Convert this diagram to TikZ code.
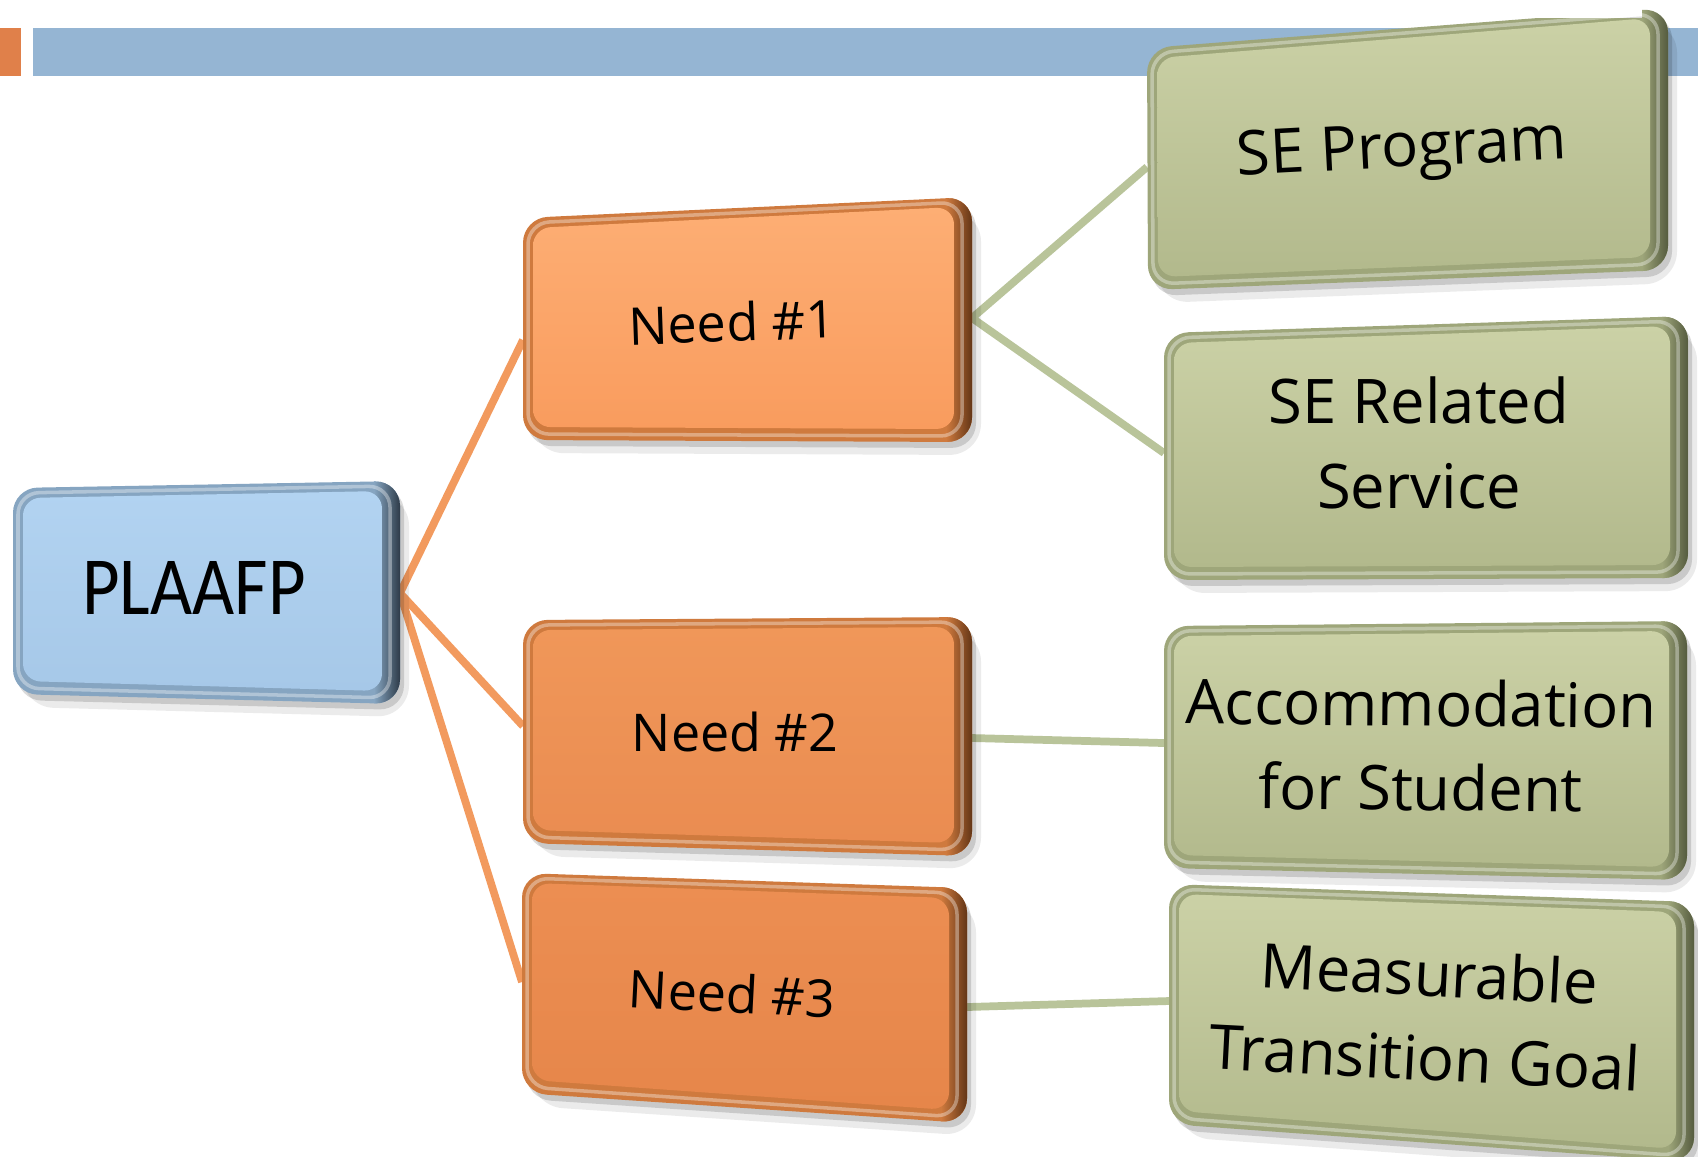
\documentclass[tikz,border=0pt]{standalone}
\usepackage{fontspec}
\setmainfont{Open Sans}
\newfontfamily\plaafont{Carlito}
\usepackage{graphicx}
\usetikzlibrary{calc}

\definecolor{barorange}{HTML}{E0804A}
\definecolor{barblue}{HTML}{95B5D3}
\definecolor{linkorange}{HTML}{F29A5E}
\definecolor{linkgreen}{HTML}{B9C49A}
\definecolor{bluetop}{HTML}{B2D3F1}
\definecolor{bluebot}{HTML}{A6C8E8}
\definecolor{blueedge}{HTML}{86A5C1}
\definecolor{bluedark}{HTML}{27333F}
\definecolor{oatop}{HTML}{FDAE74}
\definecolor{oabot}{HTML}{F99C5E}
\definecolor{obtop}{HTML}{F09759}
\definecolor{obbot}{HTML}{EA8C51}
\definecolor{octop}{HTML}{EC8E52}
\definecolor{ocbot}{HTML}{E6864A}
\definecolor{oedge}{HTML}{CF7A3E}
\definecolor{odark}{HTML}{5A3013}
\definecolor{gtop}{HTML}{CBD1A6}
\definecolor{gbot}{HTML}{B2B98C}
\definecolor{gedge}{HTML}{9EA67A}
\definecolor{gdark}{HTML}{4F553A}

% #1 prefix, #2 edge colour, #3 dark edge colour, #4 face top, #5 face bottom
\newcommand\bevelbox[5]{%
  \fill[black,opacity=.08,rounded corners=9pt] ($(#1-tl)+(9,13)$) -- ($(#1-tr)+(9,13)$) -- ($(#1-br)+(9,13)$) -- ($(#1-bl)+(9,13)$) -- cycle;
  \fill[black,opacity=.14,rounded corners=7pt] ($(#1-tl)+(4,6)$) -- ($(#1-tr)+(4,6)$) -- ($(#1-br)+(4,6)$) -- ($(#1-bl)+(4,6)$) -- cycle;
  \begin{scope}
    \clip[rounded corners=7pt] (#1-tl) -- (#1-tr) -- (#1-br) -- (#1-bl) -- cycle;
    \fill[#2] ($(#1-tl)+(-5,-30)$) rectangle ($(#1-br)+(5,30)$);
    \shade[left color=#2, right color=#3] ($(#1-tr)+(-26,-30)$) rectangle ($(#1-br)+(2,30)$);
  \end{scope}
  \shade[top color=#4, bottom color=#5, rounded corners=5pt] ($(#1-tl)+(10,10)$) -- ($(#1-tr)+(-18,10)$) -- ($(#1-br)+(-18,-13)$) -- ($(#1-bl)+(10,-13)$) -- cycle;
  \draw[white, opacity=.35, line width=1pt, rounded corners=6pt] ($(#1-tl)+(5,5)$) -- ($(#1-tr)+(-10,5)$) -- ($(#1-br)+(-10,-6)$) -- ($(#1-bl)+(5,-6)$) -- cycle;
}

\tikzset{
  lbl/.style={align=center, inner sep=0pt, text=black},
  needtxt/.style={lbl, font=\fontsize{14.8}{18}\selectfont},
  greentxt/.style={lbl, font=\fontsize{17.5}{24}\selectfont},
  olink/.style={draw=linkorange, line width=2.2pt},
  glink/.style={draw=linkgreen, line width=2.2pt},
}

\begin{document}
\begin{tikzpicture}[x=0.01cm, y=-0.01cm]
\useasboundingbox (0,0) rectangle (1698,1156);
\fill[white] (0,0) rectangle (1698,1156);

% top bar
\fill[barorange] (0,28) rectangle (21,76);
\fill[barblue] (33,28) rectangle (1698,76);

% box corners
\coordinate (p-tl) at (13,488);  \coordinate (p-tr) at (400,481);
\coordinate (p-br) at (400,704); \coordinate (p-bl) at (13,694);
\coordinate (n1-tl) at (523,218); \coordinate (n1-tr) at (972,197);
\coordinate (n1-br) at (972,442); \coordinate (n1-bl) at (523,440);
\coordinate (n2-tl) at (523,620); \coordinate (n2-tr) at (972,617);
\coordinate (n2-br) at (972,856); \coordinate (n2-bl) at (523,843);
\coordinate (n3-tl) at (522,873); \coordinate (n3-tr) at (967,888);
\coordinate (n3-br) at (967,1123); \coordinate (n3-bl) at (522,1093);
\coordinate (g1-tl) at (1147,48);  \coordinate (g1-tr) at (1668,8);
\coordinate (g1-br) at (1668,270); \coordinate (g1-bl) at (1148,290);
\coordinate (g2-tl) at (1164,333); \coordinate (g2-tr) at (1688,316);
\coordinate (g2-br) at (1688,578); \coordinate (g2-bl) at (1164,580);
\coordinate (g3-tl) at (1164,626); \coordinate (g3-tr) at (1687,621);
\coordinate (g3-br) at (1687,880); \coordinate (g3-bl) at (1164,868);
\coordinate (g4-tl) at (1169,884); \coordinate (g4-tr) at (1694,902);
\coordinate (g4-br) at (1694,1162); \coordinate (g4-bl) at (1169,1124);

% connector ends
\coordinate (p-e) at (400,593);
\coordinate (n1-w) at (523,340); \coordinate (n1-e) at (972,318);
\coordinate (n2-w) at (523,726); \coordinate (n2-e) at (972,738);
\coordinate (n3-w) at (522,982); \coordinate (n3-e) at (967,1007);
\coordinate (g1-w) at (1147,167);
\coordinate (g2-w) at (1164,453);
\coordinate (g3-w) at (1164,743);
\coordinate (g4-w) at (1169,1001);

% connectors
\draw[olink] (p-e) -- (n1-w);
\draw[olink] (p-e) -- (n2-w);
\draw[olink] (p-e) -- (n3-w);
\draw[glink] (n1-e) -- (g1-w);
\draw[glink] (n1-e) -- (g2-w);
\draw[glink] (n2-e) -- (g3-w);
\draw[glink] (n3-e) -- (g4-w);

% boxes
\bevelbox{p}{blueedge}{bluedark}{bluetop}{bluebot}
\bevelbox{n1}{oedge}{odark}{oatop}{oabot}
\bevelbox{n2}{oedge}{odark}{obtop}{obbot}
\bevelbox{n3}{oedge}{odark}{octop}{ocbot}
\bevelbox{g1}{gedge}{gdark}{gtop}{gbot}
\bevelbox{g2}{gedge}{gdark}{gtop}{gbot}
\bevelbox{g3}{gedge}{gdark}{gtop}{gbot}
\bevelbox{g4}{gedge}{gdark}{gtop}{gbot}

% labels
\node[lbl, font=\plaafont\fontsize{23.5}{28}\selectfont] (p) at (194,588) {\scalebox{0.88}[1]{PLAAFP}};
\node[needtxt, rotate=2] (n1) at (732,322) {Need \#1};
\node[needtxt] (n2) at (735,732) {Need \#2};
\node[needtxt, rotate=-3] (n3) at (732,993) {Need \#3};
\node[greentxt, rotate=3] (g1) at (1402,152) {SE Program};
\node[greentxt] (g2) at (1419,443) {SE Related\\Service};
\node[greentxt, rotate=-0.5] (g3) at (1421,745) {Accommodation\\for Student};
\node[greentxt, rotate=-3] (g4) at (1427,1015) {Measurable\\Transition Goal};
\end{tikzpicture}
\end{document}
